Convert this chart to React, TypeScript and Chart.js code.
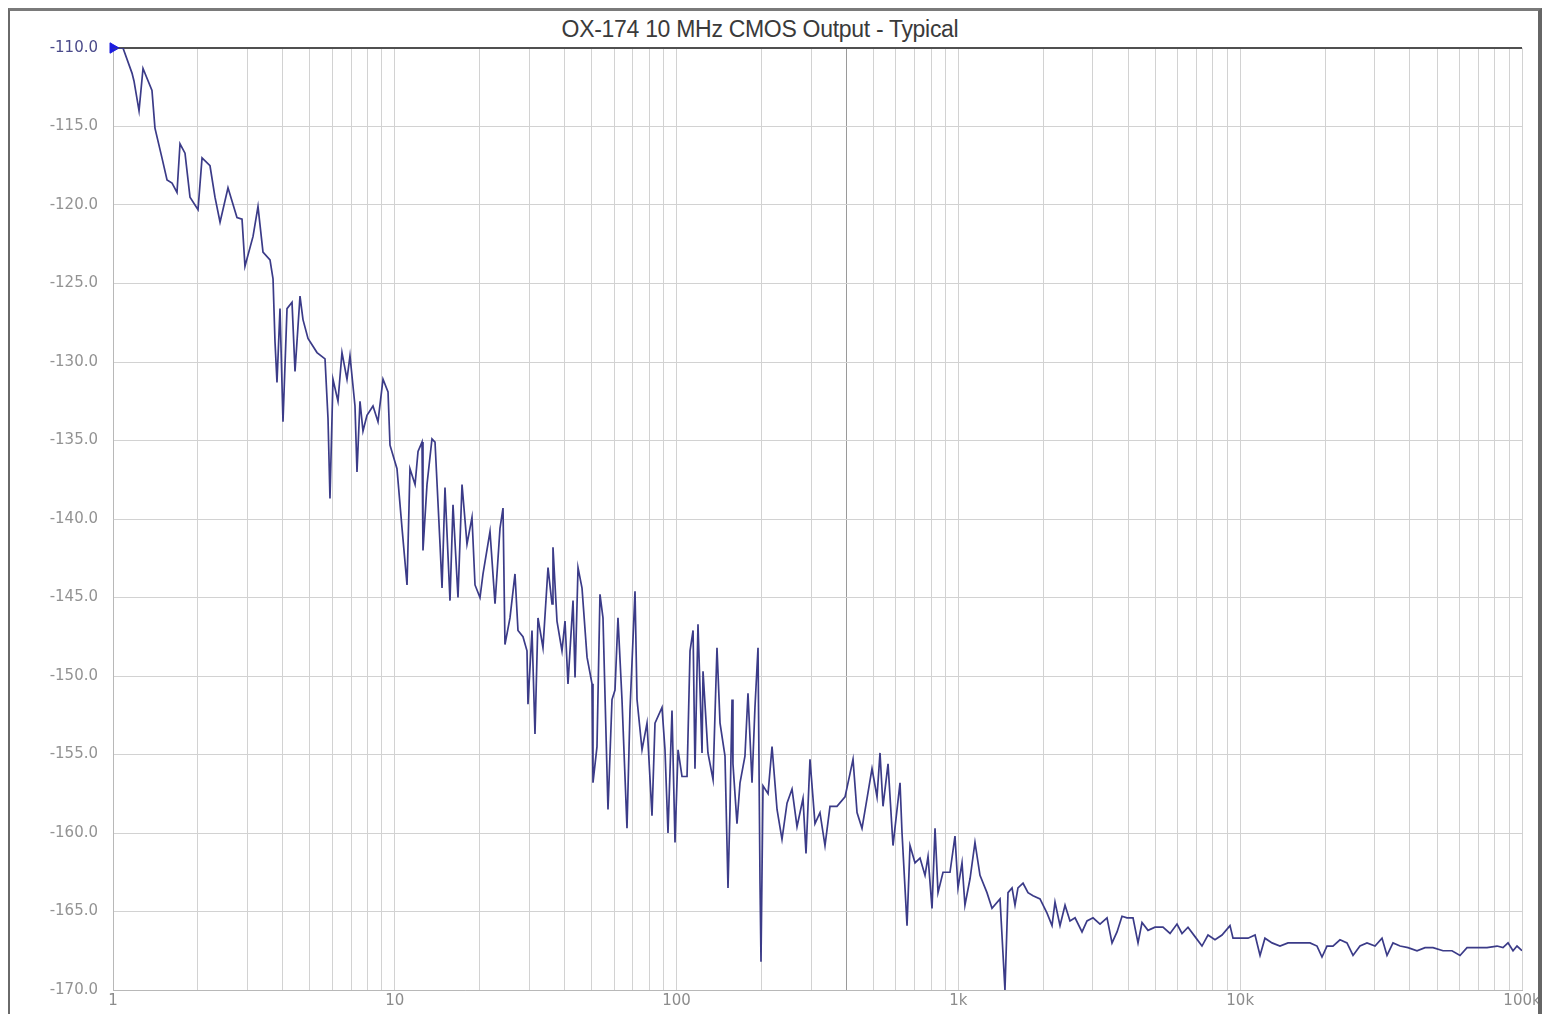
import { useEffect, useRef } from 'react'
import { Chart, registerables } from 'chart.js'

Chart.register(...registerables)

const TITLE = 'OX-174 10 MHz CMOS Output - Typical'

// offset frequency (Hz) and phase noise (dBc/Hz)
const freqs = [
  1.0, 1.085, 1.168, 1.187, 1.237, 1.278, 1.375, 1.409, 1.492, 1.555,
  1.62, 1.687, 1.729, 1.801, 1.876, 2.003, 2.07, 2.209, 2.301, 2.398,
  2.559, 2.754, 2.87, 2.94, 3.14, 3.27, 3.406, 3.607, 3.697, 3.757,
  3.819, 3.914, 4.011, 4.145, 4.318, 4.425, 4.609, 4.723, 4.92, 5.296,
  5.654, 5.794, 5.888, 6.034, 6.286, 6.495, 6.766, 6.934, 7.223, 7.342,
  7.524, 7.711, 7.967, 8.368, 8.717, 9.081, 9.461, 9.616, 10.18, 10.61,
  11.05, 11.32, 11.8, 12.09, 12.49, 12.59, 13.01, 13.55, 13.89, 14.47,
  14.71, 15.07, 15.7, 16.09, 16.76, 17.32, 18.04, 18.79, 19.26, 20.06,
  20.56, 21.77, 22.68, 23.62, 24.21, 24.6, 25.63, 26.7, 27.36, 28.5,
  29.45, 29.69, 30.68, 31.44, 32.22, 33.56, 34.97, 36.13, 36.42, 37.63,
  39.2, 40.18, 41.17, 42.9, 43.61, 44.69, 46.17, 48.1, 50.1, 50.5,
  52.18, 53.47, 54.8, 57.09, 58.99, 60.45, 61.94, 64.0, 66.68, 68.33,
  71.19, 72.37, 75.39, 78.52, 81.79, 83.82, 88.76, 90.95, 93.21, 96.31,
  98.7, 101.2, 104.5, 108.9, 111.6, 114.4, 116.2, 119.1, 123.1, 124.1,
  129.2, 134.7, 139.1, 142.6, 148.5, 152.2, 154.7, 157.3, 158.5, 163.8,
  167.9, 174.8, 179.2, 185.2, 189.7, 194.5, 197.7, 199.3, 202.6, 211.1,
  218.1, 227.2, 236.6, 246.5, 256.8, 267.5, 280.9, 287.9, 297.4, 309.8,
  322.7, 336.2, 350.2, 370.8, 396.0, 412.6, 422.7, 436.8, 454.9, 474.0,
  493.7, 514.3, 527.0, 540.1, 562.7, 586.1, 620.6, 630.9, 657.2, 673.4,
  701.5, 730.8, 761.3, 780.2, 806.1, 826.1, 846.6, 881.9, 933.7, 972.5,
  996.8, 1030, 1055, 1100, 1145, 1193, 1263, 1316, 1405, 1463,
  1500, 1550, 1588, 1627, 1696, 1766, 1840, 1948, 2063, 2149,
  2202, 2294, 2390, 2489, 2594, 2746, 2860, 3004, 3181, 3368,
  3509, 3655, 3807, 3966, 4165, 4339, 4483, 4708, 4987, 5321,
  5637, 5967, 6216, 6527, 6912, 7318, 7687, 8138, 8619, 9200,
  9430, 9984, 10660, 11290, 11760, 12240, 12970, 13840, 14780, 16040,
  17690, 18730, 19510, 20320, 21340, 22600, 23930, 25140, 26610, 28180,
  30090, 31860, 33190, 34850, 36920, 39400, 42410, 45280, 48330, 52440,
  56440, 60260, 63810, 69220, 75120, 81530, 85620, 89210, 92930, 96000,
  100000,
]

const noiseDb = [
  -110.0, -110.0, -111.6, -112.1, -114.0, -111.3, -112.7, -115.1, -117.0, -118.4,
  -118.6, -119.2, -116.1, -116.7, -119.5, -120.3, -117.0, -117.5, -119.5, -121.1,
  -118.9, -120.8, -120.9, -123.9, -122.0, -120.1, -123.0, -123.5, -124.7, -128.7,
  -131.3, -126.6, -133.8, -126.6, -126.2, -130.6, -125.8, -127.3, -128.5, -129.4,
  -129.8, -133.6, -138.7, -131.1, -132.5, -129.4, -131.1, -129.6, -132.8, -137.0,
  -132.5, -134.4, -133.4, -132.8, -133.8, -131.1, -131.9, -135.3, -136.8, -140.6,
  -144.2, -136.8, -137.8, -135.7, -135.1, -142.0, -137.8, -134.9, -135.1, -141.6,
  -144.4, -138.0, -145.2, -139.1, -145.0, -137.8, -141.6, -139.9, -144.2, -145.0,
  -143.5, -140.8, -145.4, -140.6, -139.3, -148.0, -146.3, -143.5, -147.1, -147.5,
  -148.4, -151.8, -147.1, -153.7, -146.3, -148.2, -143.1, -145.4, -141.8, -146.5,
  -148.4, -146.5, -150.5, -145.2, -150.1, -143.1, -144.4, -148.8, -150.5, -156.8,
  -154.5, -144.8, -146.3, -158.5, -151.5, -150.9, -146.3, -151.5, -159.7, -152.2,
  -144.6, -151.5, -154.7, -153.0, -158.9, -153.0, -152.0, -154.7, -160.0, -152.2,
  -160.6, -154.7, -156.4, -156.4, -148.4, -147.1, -155.9, -146.7, -154.9, -149.7,
  -154.9, -156.6, -148.2, -153.0, -155.1, -163.5, -158.5, -151.5, -155.6, -159.4,
  -156.8, -155.1, -151.1, -156.8, -152.0, -148.2, -163.2, -168.2, -157.0, -157.5,
  -154.5, -158.5, -160.4, -158.1, -157.2, -159.6, -157.8, -161.3, -155.3, -159.4,
  -158.7, -160.8, -158.3, -158.3, -157.7, -156.2, -155.3, -158.7, -159.7, -157.8,
  -155.9, -157.7, -154.9, -158.3, -155.6, -160.8, -156.8, -160.0, -165.9, -160.8,
  -161.9, -161.6, -162.7, -161.5, -164.8, -159.7, -163.8, -162.5, -162.5, -160.2,
  -163.5, -161.9, -164.6, -162.9, -160.6, -162.7, -163.8, -164.8, -164.2, -170.0,
  -163.8, -163.5, -164.6, -163.5, -163.2, -163.8, -164.0, -164.2, -165.1, -165.9,
  -164.4, -165.9, -164.6, -165.6, -165.4, -166.3, -165.6, -165.4, -165.8, -165.4,
  -167.0, -166.3, -165.3, -165.4, -165.4, -167.0, -165.7, -166.2, -166.0, -166.0,
  -166.4, -165.8, -166.4, -166.0, -166.6, -167.2, -166.5, -166.8, -166.5, -165.9,
  -166.7, -166.7, -166.7, -166.5, -167.8, -166.7, -167.0, -167.2, -167.0, -167.0,
  -167.0, -167.2, -167.9, -167.2, -167.2, -166.8, -167.0, -167.8, -167.2, -167.0,
  -167.2, -166.7, -167.8, -167.0, -167.2, -167.3, -167.5, -167.3, -167.3, -167.5,
  -167.5, -167.8, -167.3, -167.3, -167.3, -167.2, -167.3, -167.0, -167.5, -167.2,
  -167.5,
]

const decades = [1, 10, 100, 1000, 10000, 100000]
const decadeLabels = ['1', '10', '100', '1k', '10k', '100k']
const gridSteps = [1, 2, 3, 4, 5, 6, 7, 8, 9]

const yMin = -170
const yMax = -110
const yStep = 5

export default function App() {
  const canvasRef = useRef<HTMLCanvasElement>(null)

  useEffect(() => {
    if (!canvasRef.current) return
    const f = { family: 'DejaVu Sans', size: 15 } as const

    const gridValues: number[] = []
    decades.slice(0, -1).forEach(d => gridSteps.forEach(s => gridValues.push(d * s)))
    gridValues.push(decades[decades.length - 1])

    const chart = new Chart(canvasRef.current, {
      type: 'line',
      data: {
        datasets: [
          {
            data: freqs.map((x, i) => ({ x, y: noiseDb[i] })),
            borderColor: '#3b3b88',
            borderWidth: 1.7,
            pointRadius: 0,
            tension: 0,
          },
          {
            data: [{ x: freqs[0], y: noiseDb[0] }],
            showLine: false,
            pointStyle: 'triangle',
            rotation: 90,
            pointRadius: 6,
            backgroundColor: '#1c1ce0',
            borderColor: '#1c1ce0',
            clip: false,
          },
        ],
      },
      options: {
        responsive: true,
        maintainAspectRatio: false,
        animation: false,
        layout: { padding: { top: 37, right: 16, left: 0, bottom: 0 } },
        plugins: {
          legend: { display: false },
          tooltip: { enabled: false },
        },
        scales: {
          x: {
            type: 'logarithmic',
            min: 1,
            max: 100000,
            afterBuildTicks: s => { s.ticks = gridValues.map(value => ({ value })) },
            afterFit: s => { s.height = 19; s.paddingRight = 0 },
            grid: {
              color: ctx => (ctx.tick && ctx.tick.value === 400 ? '#9a9a9a' : '#d2d2d2'),
              drawTicks: false,
            },
            border: { color: '#b8b8b8' },
            ticks: {
              autoSkip: false,
              maxRotation: 0,
              padding: 2,
              color: '#8c8c8c',
              font: f,
              callback: v => {
                const i = decades.indexOf(Number(v))
                return i >= 0 ? decadeLabels[i] : ''
              },
            },
          },
          y: {
            min: yMin,
            max: yMax,
            afterFit: s => { s.width = 103 },
            grid: {
              color: ctx => (ctx.tick && ctx.tick.value === yMax ? '#505050' : '#d2d2d2'),
              lineWidth: ctx => (ctx.tick && ctx.tick.value === yMax ? 2 : 1),
              drawTicks: false,
            },
            border: { color: '#b8b8b8' },
            ticks: {
              stepSize: yStep,
              padding: 15,
              font: f,
              color: ctx => (ctx.tick && ctx.tick.value === yMax ? '#4a4a8a' : '#939393'),
              callback: v => Number(v).toFixed(1),
            },
          },
        },
      },
    })

    return () => chart.destroy()
  }, [])

  return (
    <div
      style={{
        position: 'absolute', left: 8, top: 8, width: 1528, height: 1003,
        borderTop: '3px solid #7a7a7a', borderLeft: '2px solid #6a6a6a', borderRight: '4px solid #666',
        background: '#fff',
      }}
    >
      <div
        style={{
          position: 'absolute', left: 0, top: 5, width: 1500, textAlign: 'center',
          font: '23px "Liberation Sans", Arial, sans-serif', color: '#3a3a3a', letterSpacing: -0.3,
        }}
      >
        {TITLE}
      </div>
      <div style={{ position: 'relative', width: '100%', height: '100%' }}>
        <canvas ref={canvasRef} role="img" aria-label={TITLE} />
      </div>
    </div>
  )
}
